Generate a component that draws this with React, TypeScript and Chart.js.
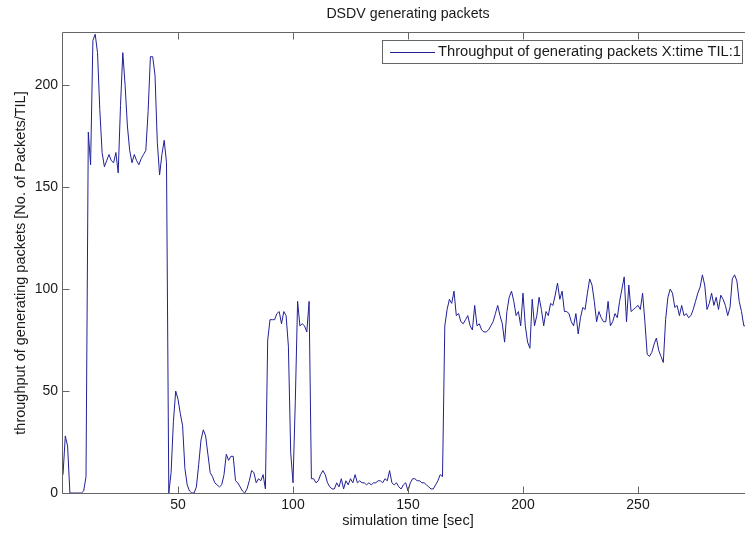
import React, { useEffect, useRef } from "react";
import { Chart, registerables } from "chart.js";

Chart.register(...registerables);

// Throughput of generating packets, one sample per second (t = 0 .. 297 s)
const throughput: number[] = [
  9, 28, 23, 0, 0, 0, 0, 0, 0, 1,
  8, 177, 161, 222, 225, 216, 188, 167, 160, 163,
  166, 163, 162, 167, 157, 190, 216, 200, 180, 168,
  162, 166, 163, 161, 164, 166, 168, 187, 214, 214,
  205, 172, 156, 166, 173, 162, 0, 10, 35, 50,
  46, 39, 33, 12, 4, 1, 0, 0, 3, 14,
  26, 31, 28, 19, 10, 8, 5, 4, 3, 4,
  9, 19, 16, 18, 18, 6, 5, 3, 1, 0,
  2, 6, 11, 10, 5, 7, 6, 9, 2, 75,
  85, 85, 85, 88, 89, 83, 89, 87, 72, 20,
  5, 45, 94, 82, 83, 82, 79, 94, 7, 7,
  5, 6, 9, 11, 9, 5, 3, 2, 2, 5,
  3, 7, 2, 6, 4, 7, 5, 9, 5, 6,
  5, 5, 4, 5, 4, 5, 5, 6, 6, 5,
  7, 6, 11, 5, 4, 5, 3, 2, 4, 5,
  1, 5, 7, 7, 6, 6, 5, 5, 4, 3,
  2, 2, 4, 6, 9, 8, 82, 90, 95, 93,
  99, 87, 88, 84, 83, 85, 87, 82, 80, 92,
  82, 83, 80, 79, 79, 80, 82, 84, 88, 92,
  87, 83, 74, 89, 96, 99, 94, 87, 89, 82,
  98, 82, 74, 71, 95, 82, 87, 96, 90, 82,
  89, 87, 93, 92, 97, 103, 95, 99, 89, 89,
  88, 84, 82, 88, 78, 86, 91, 90, 98, 105,
  102, 94, 84, 89, 86, 84, 84, 94, 82, 84,
  88, 86, 94, 100, 106, 84, 102, 89, 90, 91,
  92, 90, 98, 84, 68, 67, 69, 73, 76, 70,
  67, 64, 85, 96, 100, 98, 91, 92, 87, 92,
  87, 88, 86, 87, 90, 94, 98, 101, 107, 102,
  90, 93, 98, 92, 96, 90, 97, 95, 92, 87,
  91, 105, 107, 104, 94, 89, 82, 82,
];
const timeSec: number[] = throughput.map((_, i) => i);

const xTicks: number[] = [50, 100, 150, 200, 250];
const yTicks: number[] = [0, 50, 100, 150, 200];

const chartTitle = "DSDV generating packets";
const xTitle = "simulation time [sec]";
const yTitle = "throughput of generating packets [No. of Packets/TIL]";
const seriesLabel = "Throughput of generating packets X:time TIL:1";

const FONT = "'Liberation Sans', Arial, Helvetica, sans-serif";
const TEXT = "#1a1a1a";
const AXIS = "#666666";
const LINE = "rgb(32,32,150)";

const framePlugin = {
  id: "matlabFrame",
  afterDatasetsDraw(chart: any) {
    const { ctx, chartArea, scales } = chart;
    const { left, top, bottom, right } = chartArea;
    const xs = scales.x;
    const ys = scales.y;
    ctx.save();
    ctx.strokeStyle = AXIS;
    ctx.lineWidth = 1;
    // frame
    const L = Math.round(left) - 0.5;
    const T = Math.round(top) - 0.5;
    const B = Math.round(bottom) + 0.5;
    const R = Math.round(right) + 0.5;
    ctx.beginPath();
    ctx.moveTo(L, T);
    ctx.lineTo(L, B);
    ctx.lineTo(R, B);
    ctx.lineTo(R, T);
    ctx.closePath();
    ctx.stroke();
    // inward ticks
    const tl = 7;
    ctx.beginPath();
    for (const v of xTicks) {
      const px = Math.round(xs.getPixelForValue(v)) + 0.5;
      ctx.moveTo(px, B);
      ctx.lineTo(px, B - tl);
      ctx.moveTo(px, T);
      ctx.lineTo(px, T + tl);
    }
    for (const v of yTicks) {
      const py = Math.round(ys.getPixelForValue(v)) + 0.5;
      ctx.moveTo(L, py);
      ctx.lineTo(L + tl, py);
      ctx.moveTo(R, py);
      ctx.lineTo(R - tl, py);
    }
    ctx.stroke();

    // legend (north-east, inside the axes)
    const lx = 382.5, ly = 40.5, lw = 360, lh = 23;
    ctx.fillStyle = "#ffffff";
    ctx.fillRect(lx, ly, lw, lh);
    ctx.strokeStyle = AXIS;
    ctx.strokeRect(lx, ly, lw, lh);
    ctx.strokeStyle = LINE;
    ctx.beginPath();
    ctx.moveTo(390, 52.5);
    ctx.lineTo(435, 52.5);
    ctx.stroke();
    ctx.fillStyle = TEXT;
    ctx.font = `14.7px ${FONT}`;
    ctx.textAlign = "left";
    ctx.textBaseline = "alphabetic";
    ctx.fillText(seriesLabel, 438, 56);
    ctx.restore();
  },
};

export default function App() {
  const ref = useRef<HTMLCanvasElement | null>(null);

  useEffect(() => {
    if (!ref.current) return;
    const font = { family: FONT, size: 14 };
    const titleFont = { family: FONT, size: 14.5 };
    const chart = new Chart(ref.current, {
      type: "line",
      data: {
        datasets: [
          {
            label: seriesLabel,
            data: timeSec.map((t, i) => ({ x: t, y: throughput[i] })),
            borderColor: LINE,
            backgroundColor: LINE,
            borderWidth: 1,
            pointRadius: 0,
            tension: 0,
            fill: false,
          },
        ],
      },
      options: {
        animation: false,
        responsive: false,
        devicePixelRatio: 1,
        layout: { padding: { left: 0, right: 2, top: 0, bottom: 0 } },
        scales: {
          x: {
            type: "linear",
            min: 0,
            max: 300,
            afterBuildTicks: (s: any) => {
              s.ticks = xTicks.map((v) => ({ value: v }));
            },
            afterFit: (s: any) => {
              s.height = 43;
            },
            grid: { display: false, drawTicks: false },
            border: { display: false },
            ticks: {
              font,
              color: TEXT,
              padding: 4,
              maxRotation: 0,
              autoSkip: false,
              callback: (v: any) => String(v),
            },
            title: {
              display: true,
              text: xTitle,
              font: titleFont,
              color: TEXT,
              padding: { top: 0, bottom: 6.5 },
            },
          },
          y: {
            type: "linear",
            min: 0,
            max: 225.6,
            afterBuildTicks: (s: any) => {
              s.ticks = yTicks.map((v) => ({ value: v }));
            },
            afterFit: (s: any) => {
              s.width = 63;
            },
            grid: { display: false, drawTicks: false },
            border: { display: false },
            ticks: {
              font,
              color: TEXT,
              padding: 5,
              autoSkip: false,
              callback: (v: any) => String(v),
            },
            title: {
              display: true,
              text: yTitle,
              font: titleFont,
              color: TEXT,
              padding: { top: 12.5, bottom: 0 },
            },
          },
        },
        plugins: {
          legend: { display: false },
          tooltip: { enabled: false },
          title: {
            display: true,
            text: chartTitle,
            fullSize: false,
            font: { family: FONT, size: 14.2, weight: "normal" },
            color: TEXT,
            padding: { top: 6, bottom: 10 },
          },
        },
      },
      plugins: [framePlugin],
    } as any);
    return () => chart.destroy();
  }, []);

  return (
    <div
      style={{
        position: "fixed",
        left: 0,
        top: 0,
        width: 745,
        height: 536,
        overflow: "hidden",
        background: "#fff",
      }}
    >
      <canvas ref={ref} width={755} height={536} style={{ display: "block" }} />
    </div>
  );
}
